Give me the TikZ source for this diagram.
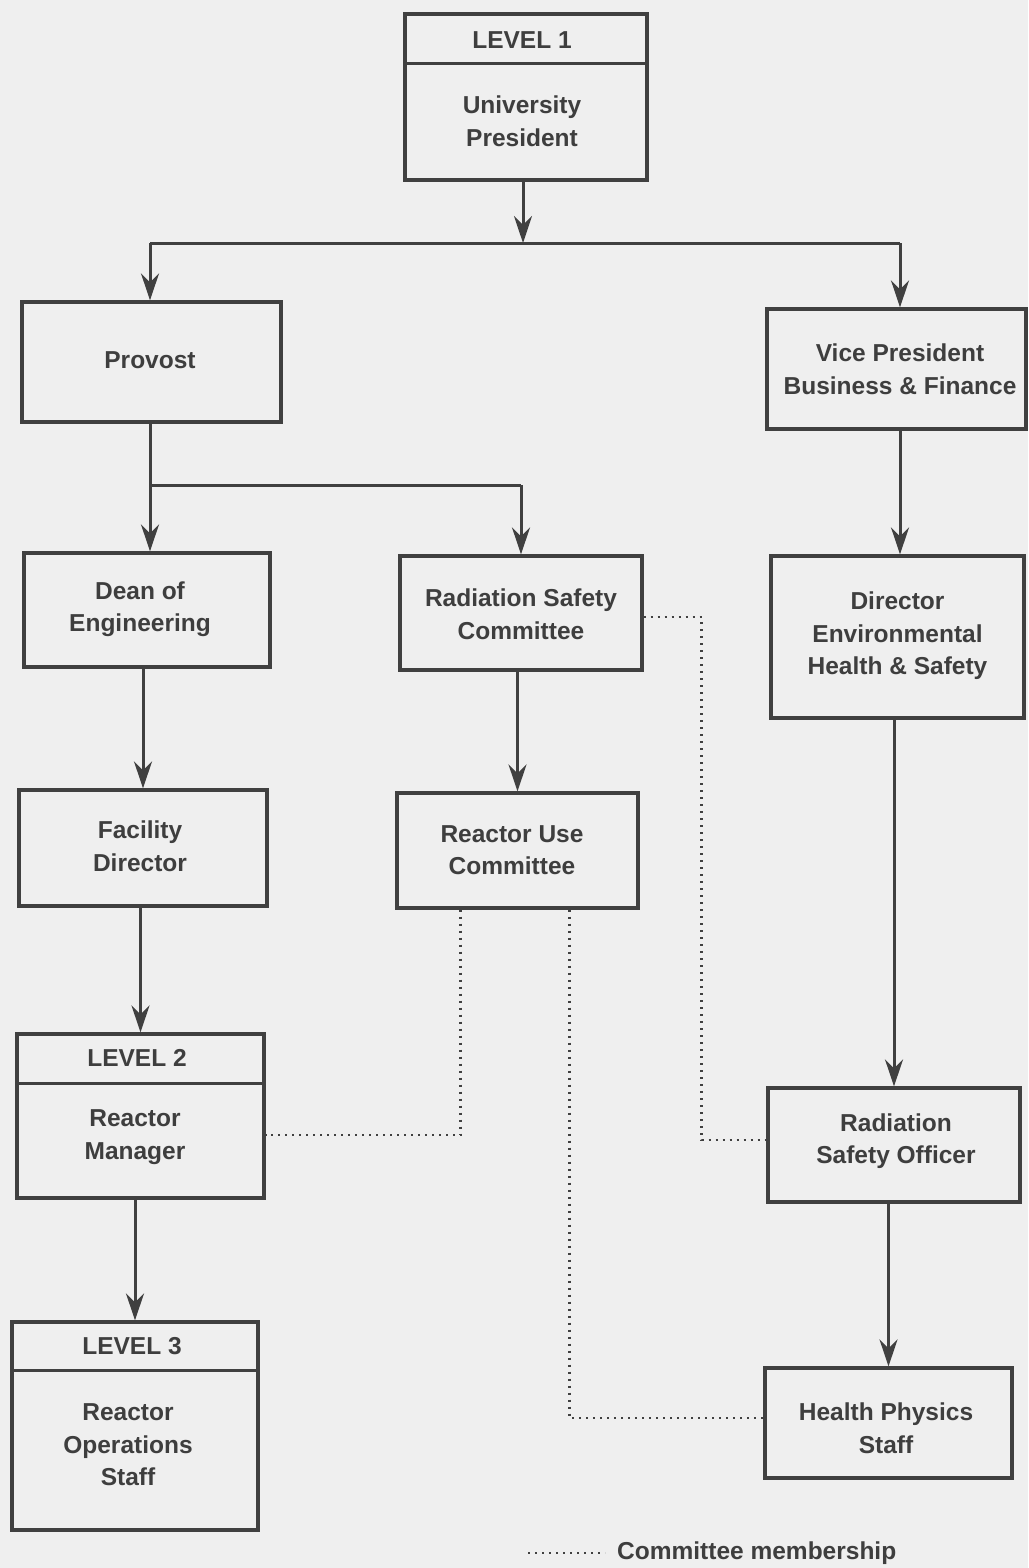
\documentclass[tikz,border=0pt]{standalone}
\usepackage{fontspec}
\setmainfont{Liberation Sans}
\usetikzlibrary{arrows.meta}
\definecolor{bg}{RGB}{239,239,239}
\definecolor{ink}{RGB}{64,64,64}
\definecolor{txt}{RGB}{62,62,62}
\begin{document}
\begin{tikzpicture}[x=1pt,y=-1pt,
  box/.style={draw=ink, line width=3.2pt, inner sep=0pt},
  lbl/.style={align=center, inner sep=0pt, text=txt, font=\fontsize{24.5}{32.5}\selectfont\bfseries},
  link/.style={draw=ink, line width=3pt},
  arr/.style={draw=ink, line width=3pt, -{Stealth[length=27pt,width=18pt,inset=9pt]}},
  memb/.style={draw=ink, line width=2.6pt, dash pattern=on 2pt off 5pt}]
\fill[bg] (0,0) rectangle (1028,1568);
\useasboundingbox (0,0) rectangle (1028,1568);

% LEVEL 1
\node[box, minimum width=242pt, minimum height=166pt] (L1) at (526,97) {};
\draw[link] (L1.west |- 0,64) -- (L1.east |- 0,64);
\node[lbl] (L1h) at (522,40) {LEVEL 1};
\node[lbl] (L1b) at (522,121) {University\\President};

\node[box, minimum width=259pt, minimum height=120pt] (Prov) at (151.5,362) {};
\node[lbl] at (150,360) {Provost};
\node[box, minimum width=259pt, minimum height=120pt] (VP) at (896.5,369) {};
\node[lbl] at (900,369) {Vice President\\Business \& Finance};

\node[box, minimum width=246pt, minimum height=114pt] (Dean) at (147,610) {};
\node[lbl] at (140,609) {Dean of\\Engineering};
\node[box, minimum width=242pt, minimum height=114pt] (RSC) at (521,613) {};
\node[lbl] at (521,614) {Radiation Safety\\Committee};
\node[box, minimum width=253pt, minimum height=162pt] (Dir) at (897.5,637) {};
\node[lbl] at (897.5,636) {Director\\Environmental\\Health \& Safety};

\node[box, minimum width=248pt, minimum height=116pt] (Fac) at (143,848) {};
\node[lbl] at (140,846) {Facility\\Director};
\node[box, minimum width=241pt, minimum height=115pt] (RUC) at (517.5,850.5) {};
\node[lbl] at (512,850) {Reactor Use\\Committee};

% LEVEL 2
\node[box, minimum width=247pt, minimum height=164pt] (L2) at (140.5,1116) {};
\draw[link] (L2.west |- 0,1083) -- (L2.east |- 0,1083);
\node[lbl] (L2h) at (137,1058) {LEVEL 2};
\node[lbl] (L2b) at (135,1137) {Reactor\\Manager};

\node[box, minimum width=252pt, minimum height=114pt] (RSO) at (894,1145) {};
\node[lbl] at (896,1141) {Radiation\\Safety Officer};

% LEVEL 3
\node[box, minimum width=246pt, minimum height=208pt] (L3) at (135,1426) {};
\draw[link] (L3.west |- 0,1370) -- (L3.east |- 0,1370);
\node[lbl] (L3h) at (132,1346) {LEVEL 3};
\node[lbl] (L3b) at (128,1445) {Reactor\\Operations\\Staff};

\node[box, minimum width=247pt, minimum height=110pt] (HPS) at (888.5,1423) {};
\node[lbl] at (886,1428) {Health Physics\\Staff};

% solid connectors
\coordinate (bus) at (523,243);
\draw[arr] (L1.south -| bus) -- (bus);
\coordinate (busL) at (150,243);
\coordinate (busR) at (900,243);
\draw[link] (busL) -- (busR);
\draw[arr] (busL) -- (busL |- Prov.north);
\draw[arr] (busR) -- (busR |- VP.north);

\coordinate (br) at (150,485);
\draw[arr] (Prov.south -| br) -- (Dean.north -| br);
\draw[link] (br) -- (RSC.north |- br);
\draw[arr] (RSC.north |- br) -- (RSC.north);
\draw[arr] (VP.south -| busR) -- (Dir.north -| busR);

\draw[arr] (Dean.south -| Fac.north) -- (Fac.north);
\draw[arr] (RSC.south -| RUC.north) -- (RUC.north);
\draw[arr] (Fac.south -| L2.north) -- (L2.north);
\draw[arr] (Dir.south -| RSO.north) -- (RSO.north);
\draw[arr] (L2.south -| L3.north) -- (L3.north);
\draw[arr] (RSO.south -| HPS.north) -- (HPS.north);

% committee membership
\draw[memb] ([yshift=-4pt]RSC.east) -- ++(58,0) |- ([yshift=5pt]RSO.west);
\draw[memb] ([xshift=-57pt]RUC.south) |- ([yshift=-19pt]L2.east);
\draw[memb] ([xshift=52pt]RUC.south) |- ([yshift=5pt]HPS.west);

% legend
\node[lbl, anchor=west] (leg) at (617,1553) {Committee membership};
\coordinate (legs) at (528,1553);
\draw[memb] (legs) -- ([xshift=-12pt]leg.west);
\end{tikzpicture}
\end{document}
